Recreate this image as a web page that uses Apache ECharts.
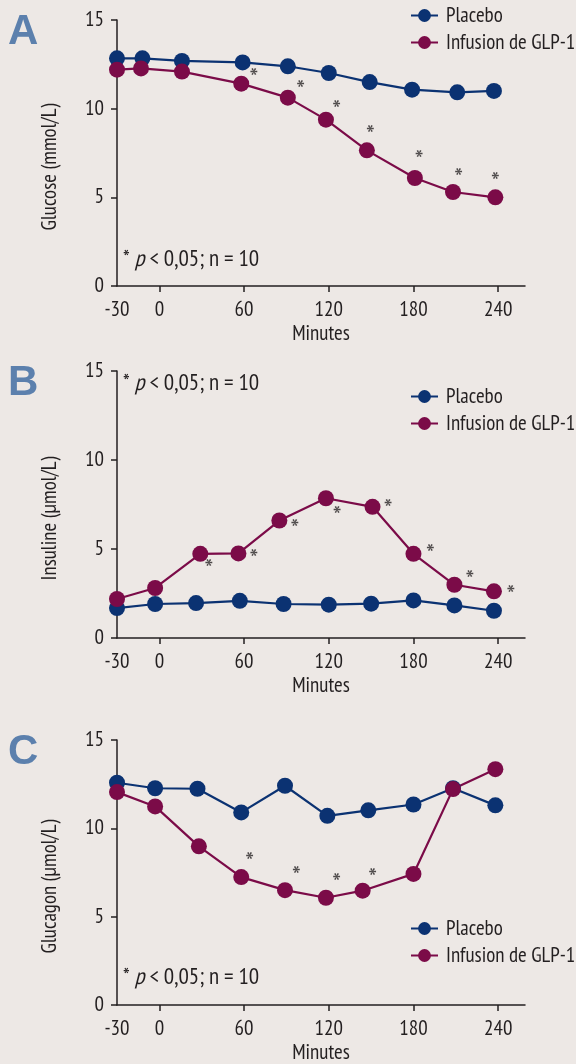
<!DOCTYPE html>
<html>
<head>
<meta charset="utf-8">
<script src="https://cdn.jsdelivr.net/npm/echarts@6/dist/echarts.min.js"></script>
<style>
html,body{margin:0;padding:0;background:#ede8e5;}
#c{width:576px;height:1064px;}
</style>
</head>
<body>
<div id="c"></div>
<script>
// ---------- DATA ----------
var xTicks = [-30, 0, 60, 120, 180, 240];
var seriesNames = ['Placebo', 'Infusion de GLP-1'];
var panelLetters = ['A', 'B', 'C'];
var yNames = ['Glucose (mmol/L)', 'Insuline (\u00b5mol/L)', 'Glucagon (\u00b5mol/L)'];
var xName = 'Minutes';

// Panel A - Glucose
var glucPlaceboX = [-30, -12, 16, 59, 91, 120, 149, 179, 211, 237];
var glucPlaceboY = [12.84, 12.84, 12.69, 12.61, 12.39, 12.01, 11.50, 11.07, 10.92, 11.00];
var glucGlpX = [-30, -13, 16, 58, 91, 118, 147, 181, 208, 238];
var glucGlpY = [12.20, 12.27, 12.09, 11.41, 10.62, 9.38, 7.65, 6.09, 5.30, 5.00];
var glucSigX = [67, 100, 125.5, 149.5, 184, 212, 238];
var glucSigY = [12.0, 11.3, 10.2, 8.76, 7.39, 6.33, 6.15];

// Panel B - Insuline
var insPlaceboX = [-30, -3, 26, 57, 88, 120, 150, 180, 209, 237];
var insPlaceboY = [1.68, 1.91, 1.96, 2.09, 1.91, 1.87, 1.93, 2.11, 1.83, 1.53];
var insGlpX = [-30, -3, 29, 56, 85, 118, 151, 180, 209, 237];
var insGlpY = [2.19, 2.81, 4.73, 4.75, 6.60, 7.85, 7.37, 4.73, 2.99, 2.62];
var insSigX = [35, 67, 96, 126, 162, 192, 220, 249];
var insSigY = [4.15, 4.71, 6.40, 7.14, 7.52, 4.96, 3.50, 2.69];

// Panel C - Glucagon
var glcPlaceboX = [-30, -3, 27, 58, 89, 119, 148, 180, 208, 238];
var glcPlaceboY = [12.58, 12.27, 12.24, 10.90, 12.41, 10.71, 11.02, 11.35, 12.27, 11.30];
var glcGlpX = [-30, -3, 28, 58, 89, 118, 144, 180, 208, 238];
var glcGlpY = [12.05, 11.24, 8.98, 7.24, 6.50, 6.07, 6.47, 7.42, 12.22, 13.35];
var glcSigX = [64, 97, 125.5, 151];
var glcSigY = [8.36, 7.58, 7.14, 7.44];

var statText = ['* ', 'p', ' < 0,05; n = 10'];

// ---------- BUILD ----------
function zip(xs, ys) { return xs.map(function (x, i) { return [x, ys[i]]; }); }

var FONT = '"PT Sans Narrow", "Roboto Condensed", "DejaVu Sans Condensed", sans-serif';
var TXT = '#231f20';
var COL_P = '#0b3272';
var COL_G = '#7b0b48';
var LETTER = '#5c80ad';

var panels = [
  { top: 20, height: 266, p: zip(glucPlaceboX, glucPlaceboY), g: zip(glucGlpX, glucGlpY), s: zip(glucSigX, glucSigY), legendTop: 5, statTop: 260 },
  { top: 371, height: 267, p: zip(insPlaceboX, insPlaceboY), g: zip(insGlpX, insGlpY), s: zip(insSigX, insSigY), legendTop: 386, statTop: 384 },
  { top: 740, height: 266, p: zip(glcPlaceboX, glcPlaceboY), g: zip(glcGlpX, glcGlpY), s: zip(glcSigX, glcSigY), legendTop: 918, statTop: 978 }
];

var grids = [], xAxes = [], yAxes = [], series = [], legends = [], graphics = [];
panels.forEach(function (pn, i) {
  grids.push({ left: 117, width: 408, top: pn.top, height: pn.height });
  xAxes.push({
    type: 'value', gridIndex: i, min: -30, max: 259,
    name: xName, nameLocation: 'middle', nameGap: 37,
    nameTextStyle: { fontFamily: FONT, fontSize: 21, color: TXT },
    axisLine: { show: true, onZero: false, lineStyle: { color: '#231f20', width: 1.5 } },
    axisTick: { show: true, length: 6, customValues: xTicks.slice(1), lineStyle: { color: '#231f20', width: 1.5 } },
    axisLabel: { customValues: xTicks, margin: 13, fontFamily: FONT, fontSize: 21, color: TXT },
    splitLine: { show: false }
  });
  yAxes.push({
    type: 'value', gridIndex: i, min: 0, max: 15, interval: 5,
    name: yNames[i], nameLocation: 'middle', nameGap: 57, nameRotate: 90,
    nameTextStyle: { fontFamily: FONT, fontSize: 21, color: TXT, padding: [0, 28, 0, 0] },
    axisLine: { show: true, onZero: false, lineStyle: { color: '#231f20', width: 1.5 } },
    axisTick: { show: true, length: 6, lineStyle: { color: '#231f20', width: 1.5 } },
    axisLabel: { margin: 13, fontFamily: FONT, fontSize: 21, color: TXT },
    splitLine: { show: false }
  });
  series.push({
    name: seriesNames[0], type: 'line', xAxisIndex: i, yAxisIndex: i, data: pn.p,
    symbol: 'circle', symbolSize: 16, color: COL_P,
    lineStyle: { width: 2.2, color: COL_P }, itemStyle: { color: COL_P }, animation: false
  });
  series.push({
    name: seriesNames[1], type: 'line', xAxisIndex: i, yAxisIndex: i, data: pn.g,
    symbol: 'circle', symbolSize: 16, color: COL_G,
    lineStyle: { width: 2.2, color: COL_G }, itemStyle: { color: COL_G }, animation: false
  });
  series.push({
    name: 'sig', type: 'scatter', xAxisIndex: i, yAxisIndex: i, data: pn.s,
    symbol: 'circle', symbolSize: 2, itemStyle: { color: 'rgba(0,0,0,0)' }, silent: true, animation: false,
    label: { show: true, position: 'inside', formatter: '*', fontFamily: FONT, fontSize: 30, color: TXT, offset: [0, 7] }
  });
  legends.push({
    data: seriesNames, orient: 'vertical', left: 410, top: pn.legendTop, padding: 0,
    itemWidth: 27, itemHeight: 16, itemGap: 6,
    textStyle: { fontFamily: FONT, fontSize: 21, color: TXT, padding: [0, 0, 0, 3] },
    selectedMode: false
  });
  graphics.push({
    type: 'text', left: 8, top: pn.top - 9,
    style: { text: panelLetters[i], font: 'bold 42px "Liberation Sans", sans-serif', fill: LETTER }
  });
  graphics.push({
    type: 'text', left: 123, top: pn.statTop - 12,
    style: {
      text: '{a|' + statText[0] + '}{b|' + statText[1] + '}{a|' + statText[2] + '}',
      rich: {
        a: { fontFamily: FONT, fontSize: 23, fill: TXT },
        b: { fontFamily: FONT, fontSize: 23, fontStyle: 'italic', fill: TXT }
      }
    }
  });
});

var chart = echarts.init(document.getElementById('c'), null, { renderer: 'canvas' });
chart.setOption({
  backgroundColor: '#ede8e5',
  animation: false,
  grid: grids, xAxis: xAxes, yAxis: yAxes, series: series, legend: legends, graphic: graphics
});
</script>
</body>
</html>
